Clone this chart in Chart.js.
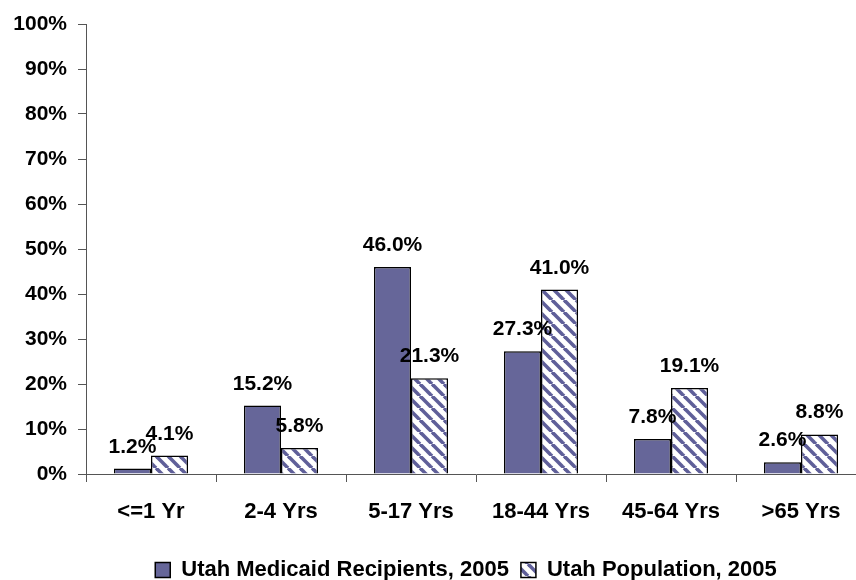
<!DOCTYPE html>
<html>
<head>
<meta charset="utf-8">
<script src="https://cdn.jsdelivr.net/npm/chart.js@4"></script>
<style>
  html, body { margin: 0; padding: 0; background: #fff; overflow: hidden; }
  #wrap { width: 932px; height: 600px; }
</style>
</head>
<body>
<div id="wrap"><canvas id="ages" width="932" height="600"></canvas></div>
<script>
var categories = ['<=1 Yr', '2-4 Yrs', '5-17 Yrs', '18-44 Yrs', '45-64 Yrs', '>65 Yrs'];
var medicaid = [1.2, 15.2, 46.0, 27.3, 7.8, 2.6];
var population = [4.1, 5.8, 21.3, 41.0, 19.1, 8.8];
var seriesNames = ['Utah Medicaid Recipients, 2005', 'Utah Population, 2005'];

var FONT = "'Liberation Sans', Arial, sans-serif";
var BAR = '#666699';

// diagonal hatch for the population bars
function hatch() {
    var c = document.createElement('canvas');
    c.width = 12; c.height = 12;
    var g = c.getContext('2d');
    g.fillStyle = '#fff';
    g.fillRect(0, 0, 12, 12);
    g.strokeStyle = '#5f5f99';
    g.lineWidth = 3.6;
    for (var k = -12; k <= 12; k += 12) {
        g.beginPath();
        g.moveTo(k, 0);
        g.lineTo(k + 12, 12);
        g.stroke();
    }
    return g.createPattern(c, 'repeat');
}

var valueLabels = {
    id: 'valueLabels',
    afterDatasetsDraw: function (chart) {
        var ctx = chart.ctx;
        ctx.save();
        ctx.font = 'bold 21px ' + FONT;
        ctx.fillStyle = '#000';
        ctx.textAlign = 'center';
        ctx.textBaseline = 'alphabetic';
        chart.data.datasets.forEach(function (ds, i) {
            chart.getDatasetMeta(i).data.forEach(function (bar, j) {
                ctx.fillText(ds.data[j].toFixed(1) + '%', bar.x, bar.y - 16);
            });
        });
        ctx.restore();
    }
};

// the original legend sits a little right of the plot's centre
var legendShift = {
    id: 'legendShift',
    afterLayout: function (chart) {
        chart.legend.left += 66;
    }
};

var ctx = document.getElementById('ages').getContext('2d');
var myChart = new Chart(ctx, {
    type: 'bar',
    data: {
        labels: categories,
        datasets: [{
            label: seriesNames[0],
            data: medicaid,
            backgroundColor: BAR,
            borderColor: '#000',
            borderWidth: 1.5
        }, {
            label: seriesNames[1],
            data: population,
            backgroundColor: hatch(),
            borderColor: '#000',
            borderWidth: 1.5
        }]
    },
    options: {
        responsive: false,
        animation: false,
        layout: { padding: { top: 24, right: 66, bottom: 9, left: 0 } },
        datasets: { bar: { categoryPercentage: 0.57, barPercentage: 1 } },
        plugins: {
            legend: {
                position: 'bottom',
                labels: {
                    font: { family: FONT, size: 22, weight: 'bold' },
                    color: '#000',
                    boxWidth: 15,
                    boxHeight: 15,
                    padding: 12
                }
            },
            tooltip: { enabled: false }
        },
        scales: {
            x: {
                grid: { offset: true, drawOnChartArea: false, tickLength: 8, color: '#555' },
                border: { color: '#555', width: 1 },
                ticks: { font: { family: FONT, size: 22, weight: 'bold' }, color: '#000', padding: 17, maxRotation: 0 },
                afterFit: function (s) { s.height = 73; }
            },
            y: {
                min: 0,
                max: 100,
                grid: { drawOnChartArea: false, tickLength: 8, color: '#555' },
                border: { color: '#555', width: 1 },
                ticks: {
                    stepSize: 10,
                    padding: 11,
                    font: { family: FONT, size: 21, weight: 'bold' },
                    color: '#000',
                    callback: function (v) { return v + '%'; }
                },
                afterFit: function (s) { s.width = 86; }
            }
        }
    },
    plugins: [valueLabels, legendShift]
});
</script>
</body>
</html>
